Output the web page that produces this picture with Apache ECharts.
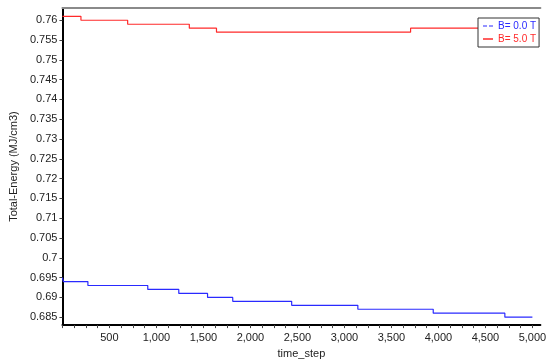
<!DOCTYPE html>
<html lang="en">
<head>
    <meta charset="UTF-8"/>
    <title>Total Energy vs time_step</title>
    <script src="https://cdn.jsdelivr.net/npm/echarts@6/dist/echarts.min.js"></script>
    <style>
        html, body { margin: 0; padding: 0; background: #fff; }
    </style>
</head>
<body>

<div id="main" style="width:549px; height:364px;"></div>
<script type="text/javascript">

    // step points: value holds from t until the next t
    var blueSteps = [0, 10, 271, 908, 1238, 1544, 1812, 2439, 3143, 3945, 4707, 5000];
    var blueValues = [0.695, 0.694, 0.693, 0.692, 0.691, 0.690, 0.689, 0.688, 0.687, 0.686, 0.685, 0.685];

    var redSteps = [0, 197, 694, 1350, 1639, 3704, 4550, 4800, 5000];
    var redValues = [0.761, 0.760, 0.759, 0.758, 0.757, 0.758, 0.757, 0.756, 0.755];

    var seriesNames = ['B= 0.0 T', 'B= 5.0 T'];
    var yTicks = [0.685, 0.69, 0.695, 0.7, 0.705, 0.71, 0.715, 0.72, 0.725, 0.73, 0.735, 0.74, 0.745, 0.75, 0.755, 0.76];

    function pairs(xs, ys) {
        var out = [];
        for (var i = 0; i < xs.length; i++) {
            out.push([xs[i], ys[i]]);
        }
        return out;
    }

    var font = 'Liberation Sans, Arial, sans-serif';
    var myChart = echarts.init(document.getElementById('main'));

    var option = {
        animation: false,
        backgroundColor: '#fff',
        grid: { left: 53, top: 8, right: 0, bottom: 30 },
        legend: {
            left: 478,
            top: 18,
            orient: 'vertical',
            backgroundColor: '#fff',
            borderColor: '#333',
            borderWidth: 1,
            borderRadius: 0,
            padding: [3, 3, 3, 5],
            itemGap: 3,
            itemWidth: 10,
            itemHeight: 1.5,
            textStyle: { fontFamily: font, fontSize: 10 },
            data: [
                { name: seriesNames[0], icon: 'path://M0,0h4v1h-4zM6,0h4v1h-4z', textStyle: { color: '#2a2aff' } },
                { name: seriesNames[1], icon: 'rect', textStyle: { color: '#ff2a2a' } }
            ]
        },
        xAxis: [{
            type: 'value',
            min: 0,
            max: 5085,
            interval: 125,
            name: 'time_step',
            nameLocation: 'middle',
            nameGap: 21,
            nameTextStyle: { fontFamily: font, fontSize: 11, color: '#222' },
            axisLine: { lineStyle: { color: '#000', width: 2 } },
            axisTick: { length: 3, lineStyle: { color: '#444' } },
            axisLabel: {
                fontFamily: font, fontSize: 11, color: '#222', margin: 7,
                showMaxLabel: false,
                formatter: function (v) {
                    if (v === 0 || v % 500 !== 0) return '';
                    return v.toLocaleString('en-US');
                }
            },
            splitLine: { show: false }
        }, {
            type: 'value',
            position: 'top',
            min: 0,
            max: 5085,
            axisLine: { show: true, lineStyle: { color: '#8a8a8a', width: 2 } },
            axisTick: { show: false },
            axisLabel: { show: false },
            splitLine: { show: false }
        }],
        yAxis: {
            type: 'value',
            min: 0.683,
            max: 0.7631,
            name: 'Total-Energy (MJ/cm3)',
            nameLocation: 'middle',
            nameGap: 38,
            nameTextStyle: { fontFamily: font, fontSize: 11, color: '#222' },
            axisLine: { show: true, lineStyle: { color: '#000', width: 2 } },
            axisTick: { length: 3, customValues: yTicks, lineStyle: { color: '#444' } },
            axisLabel: {
                fontFamily: font, fontSize: 11, color: '#222', margin: 5,
                customValues: yTicks,
                formatter: function (v) { return String(parseFloat(v.toFixed(3))); }
            },
            splitLine: { show: false }
        },
        series: [
            {
                name: seriesNames[0],
                type: 'line',
                step: 'end',
                symbol: 'none',
                color: '#2a2aff',
                lineStyle: { width: 1.2 },
                data: pairs(blueSteps, blueValues)
            },
            {
                name: seriesNames[1],
                type: 'line',
                step: 'end',
                symbol: 'none',
                color: '#ff2a2a',
                lineStyle: { width: 1.2 },
                data: pairs(redSteps, redValues)
            }
        ]
    };

    myChart.setOption(option);
</script>

</body>
</html>
